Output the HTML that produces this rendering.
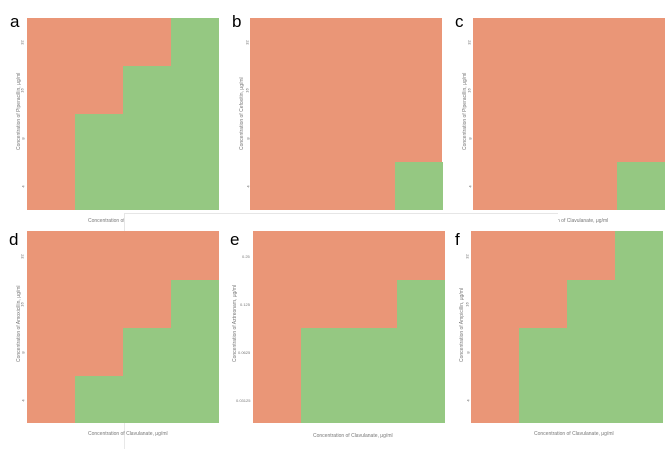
<!DOCTYPE html>
<html><head><meta charset="utf-8"><style>
body{margin:0;width:668px;height:449px;background:#fff;position:relative;overflow:hidden;font-family:"Liberation Sans",sans-serif}
.p{position:absolute;width:192px;height:192px;background:#EA9677}
.g{position:absolute;background:#95C882}
.L{position:absolute;font-size:17px;color:#000}
.yt{position:absolute;font-size:4px;color:#666;transform:rotate(-90deg)}
.yl{position:absolute;font-size:5px;color:#777;transform:rotate(-90deg);transform-origin:left top;white-space:nowrap}
.xl{position:absolute;font-size:5px;color:#777;white-space:nowrap}
.xt{position:absolute;font-size:4px;color:#777;transform:rotate(-60deg)}
</style></head><body>
<!-- a -->
<div class="L" style="left:10px;top:12px">a</div>
<div class="p" style="left:27px;top:18px">
<div class="g" style="left:48px;top:96px;width:48px;height:96px"></div>
<div class="g" style="left:96px;top:48px;width:48px;height:144px"></div>
<div class="g" style="left:144px;top:0;width:48px;height:192px"></div></div>
<div class="yl" style="left:16px;top:150px">Concentration of Piperacillin, μg/ml</div>
<div class="xl" style="left:88px;top:218px">Concentration of C</div>
<!-- b -->
<div class="L" style="left:232px;top:12px">b</div>
<div class="p" style="left:250px;top:18px"><div class="g" style="left:145px;top:144px;width:48px;height:48px"></div></div>
<div class="yl" style="left:239px;top:150px">Concentration of Cefoxitin, μg/ml</div>
<!-- c -->
<div class="L" style="left:455px;top:12px">c</div>
<div class="p" style="left:473px;top:18px"><div class="g" style="left:144px;top:144px;width:48px;height:48px"></div></div>
<div class="yl" style="left:462px;top:150px">Concentration of Piperacillin, μg/ml</div>
<div class="xl" style="left:557px;top:218px">n of Clavulanate, μg/ml</div>
<!-- overlay -->
<div style="position:absolute;left:124px;top:213px;width:433px;height:17px;background:#fff;border-top:1px solid #e6e6e6;border-left:1px solid #e6e6e6"></div>
<div style="position:absolute;left:124px;top:230px;width:1px;height:219px;background:#e8e8e8"></div>
<!-- d -->
<div class="L" style="left:9px;top:230px">d</div>
<div class="p" style="left:27px;top:231px">
<div class="g" style="left:48px;top:145px;width:48px;height:47px"></div>
<div class="g" style="left:96px;top:97px;width:48px;height:95px"></div>
<div class="g" style="left:144px;top:49px;width:48px;height:143px"></div></div>
<div class="yl" style="left:16px;top:362px">Concentration of Amoxicillin, μg/ml</div>
<div class="xl" style="left:88px;top:431px">Concentration of Clavulanate, μg/ml</div>
<!-- e -->
<div class="L" style="left:230px;top:230px">e</div>
<div class="p" style="left:253px;top:231px">
<div class="g" style="left:48px;top:97px;width:144px;height:95px"></div>
<div class="g" style="left:144px;top:49px;width:48px;height:143px"></div></div>
<div class="yl" style="left:232px;top:362px">Concentration of Aztreonam, μg/ml</div>
<div class="xl" style="left:313px;top:433px">Concentration of Clavulanate, μg/ml</div>
<!-- f -->
<div class="L" style="left:455px;top:230px">f</div>
<div class="p" style="left:471px;top:231px">
<div class="g" style="left:48px;top:97px;width:48px;height:95px"></div>
<div class="g" style="left:96px;top:49px;width:48px;height:143px"></div>
<div class="g" style="left:144px;top:0;width:48px;height:192px"></div></div>
<div class="yl" style="left:459px;top:362px">Concentration of Ampicillin, μg/ml</div>
<div class="xl" style="left:534px;top:431px">Concentration of Clavulanate, μg/ml</div>
<!-- y ticks -->
<div class="yt" style="left:20px;top:40px">32</div><div class="yt" style="left:20px;top:88px">16</div><div class="yt" style="left:22px;top:136px">8</div><div class="yt" style="left:22px;top:184px">4</div>
<div class="yt" style="left:245px;top:40px">32</div><div class="yt" style="left:245px;top:88px">16</div><div class="yt" style="left:247px;top:136px">8</div><div class="yt" style="left:247px;top:184px">4</div>
<div class="yt" style="left:467px;top:40px">32</div><div class="yt" style="left:467px;top:88px">16</div><div class="yt" style="left:469px;top:136px">8</div><div class="yt" style="left:469px;top:184px">4</div>
<div class="yt" style="left:20px;top:254px">32</div><div class="yt" style="left:20px;top:302px">16</div><div class="yt" style="left:22px;top:350px">8</div><div class="yt" style="left:22px;top:398px">4</div>
<div class="yt" style="left:465px;top:254px">32</div><div class="yt" style="left:465px;top:302px">16</div><div class="yt" style="left:467px;top:350px">8</div><div class="yt" style="left:467px;top:398px">4</div>
<div class="xl" style="left:242px;top:254px;font-size:4px">0.25</div><div class="xl" style="left:240px;top:302px;font-size:4px">0.125</div><div class="xl" style="left:238px;top:350px;font-size:4px">0.0625</div><div class="xl" style="left:236px;top:398px;font-size:4px">0.03125</div>
</body></html>
